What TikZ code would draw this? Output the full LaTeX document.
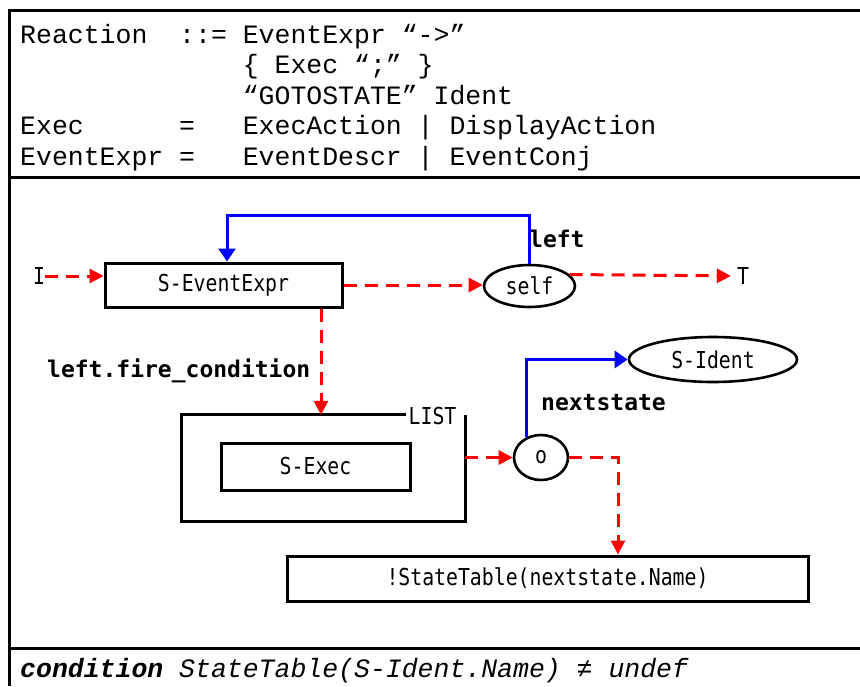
\documentclass[tikz,border=0pt]{standalone}
\usepackage{fontspec}
\usetikzlibrary{shapes.geometric,arrows.meta,calc}
\newfontfamily\gramfont{Liberation Mono}
\newfontfamily\labfont[FakeStretch=0.85]{DejaVu Sans Mono}
\newfontfamily\boldlabfont{DejaVu Sans Mono}
\begin{document}
\begin{tikzpicture}[x=1pt,y=-1pt,
  frame/.style={line width=3pt},
  gram/.style={anchor=base west, inner sep=0pt, font=\gramfont\fontsize{26.5}{30}\selectfont},
  plain/.style={inner sep=0pt, font=\labfont\fontsize{23.3}{26}\selectfont},
  boldlab/.style={inner sep=0pt, font=\boldlabfont\bfseries\fontsize{23}{26}\selectfont},
  box/.style={draw, rectangle, line width=3pt, inner sep=0pt, font=\labfont\fontsize{23.3}{26}\selectfont},
  oval/.style={draw, ellipse, line width=2.6pt, inner sep=0pt, font=\labfont\fontsize{23.3}{26}\selectfont},
  redarrow/.style={draw=red, line width=3pt, dash pattern=on 13pt off 8pt, -{Triangle[width=14pt,length=14pt]}},
  bluearrow/.style={draw=blue, line width=3pt, -{Triangle[width=17pt,length=13pt]}}]
\useasboundingbox (0,0) rectangle (860,686);

% frame of the rule
\draw[frame] (860,10) -- (9,10) -- (9,686);
\draw[frame] (9,177) -- (860,177);
\draw[frame] (9,648) -- (860,648);

% grammar
\node[gram] (g1a) at (20,43) {Reaction};
\node[gram] (g1b) at (179,43) {::= EventExpr “->”};
\node[gram] (g2) at (242.6,73) {\{ Exec “;” \}};
\node[gram] (g3) at (242.6,104) {“GOTOSTATE” Ident};
\node[gram] (g4a) at (20,134) {Exec};
\node[gram] (g4b) at (179,134) {=};
\node[gram] (g4c) at (242.6,134) {ExecAction | DisplayAction};
\node[gram] (g5a) at (20,165) {EventExpr};
\node[gram] (g5b) at (179,165) {=};
\node[gram] (g5c) at (242.6,165) {EventDescr | EventConj};

% tree nodes
\node[box, minimum width=237pt, minimum height=44pt] (ee) at (223.5,285) {S-EventExpr};
\node[oval, minimum width=91pt, minimum height=42pt] (self) at (529.5,286) {self};
\node[oval, minimum width=168pt, minimum height=45pt] (sid) at (713,359.5) {S-Ident};
\node[inner sep=0pt, minimum width=283pt, minimum height=106pt] (lst) at (323.5,468) {};
\node[box, minimum width=189pt, minimum height=47pt] (sx) at (315.5,466.5) {S-Exec};
\node[oval, minimum width=54pt, minimum height=45pt] (o) at (541,457.5) {o};
\node[box, minimum width=521pt, minimum height=45pt] (st) at (547.5,578.5) {!StateTable(nextstate.Name)};
\node[plain] (I) at (39,276) {I};
\node[plain] (T) at (743,276) {T};
\node[plain] (lstl) at (432.5,416.5) {LIST};

% list box, open where its label sits
\draw[line width=3pt] ([xshift=-59pt]lst.north east) -- (lst.north west) -- (lst.south west) -- (lst.south east) -- (lst.north east);

% attribute labels
\node[boldlab, anchor=base west] (lft) at (529,247) {left};
\node[boldlab, anchor=base west] (nxt) at (541,410) {nextstate};
\node[boldlab, anchor=base west] (lfc) at (47,377) {left.fire\_condition};

% control flow
\coordinate (fc) at ([xshift=-2.5pt]lst.north);
\draw[redarrow] (I.east) -- (I.east -| ee.west);
\draw[redarrow] (ee.east) -- (ee.east -| self.west);
\draw[redarrow, shorten >=6pt] (self.16) -- (T.west);
\draw[redarrow] (ee.south -| fc) -- (fc);
\draw[redarrow] (o.west -| lst.east) -- (o.west);
\draw[redarrow] (o.east) -| ([xshift=70.5pt]st.north);

% structure links
\coordinate (bt) at (227,215);
\draw[bluearrow] (self.north) |- (bt) -- (bt |- ee.north);
\draw[bluearrow] (o.126) |- (sid.west);

% condition
\node[gram] (cond) at (20,677) {\itshape{\bfseries condition} StateTable(S-Ident.Name) ≠ undef};
\end{tikzpicture}
\end{document}
